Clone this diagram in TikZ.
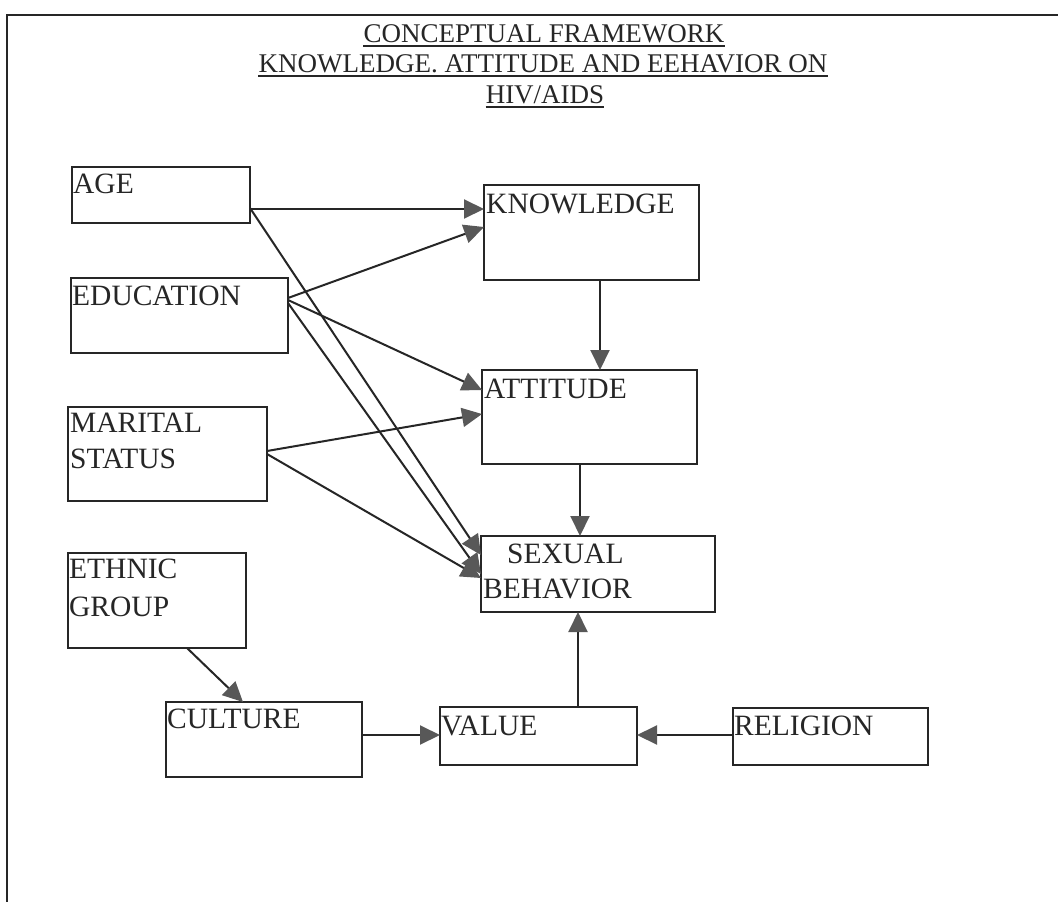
\documentclass[tikz,border=0pt]{standalone}
\usepackage{fontspec}
\setmainfont{Liberation Serif}
\usetikzlibrary{arrows.meta,calc}
\definecolor{ink}{HTML}{262626}
\definecolor{headgray}{HTML}{585858}
\begin{document}
\begin{tikzpicture}[x=1pt,y=-1pt,
  box/.style={draw=ink,line width=2.2pt,rectangle,inner sep=0pt,outer sep=0pt,anchor=north west},
  lbl/.style={anchor=base west,inner sep=0pt,text=ink,font=\fontsize{29.5}{34}\selectfont},
  ttl/.style={anchor=base,inner sep=0pt,text=ink,font=\fontsize{27}{30}\selectfont},
  uline/.style={draw=ink,line width=1.5pt},
  arr/.style={draw=ink,line width=2pt,-{Triangle[length=20pt,width=19pt,color=headgray]}},
  frame/.style={draw=ink,line width=2.4pt}]
\useasboundingbox (0,0) rectangle (1058,902);
\fill[white] (0,0) rectangle (1058,902);
% outer frame
\coordinate (ftl) at (7,15);
\coordinate (ftr) at (1058,15);
\coordinate (fbl) at (7,902);
\draw[frame] (fbl) -- (ftl) -- (ftr);
% title
\node[ttl] (t1) at (544,42) {CONCEPTUAL FRAMEWORK};
\node[ttl] (t2) at (543,72) {KNOWLEDGE. ATTITUDE AND EEHAVIOR ON};
\node[ttl] (t3) at (545,103) {HIV/AIDS};
\foreach \t in {t1,t2,t3}{
  \draw[uline] ($(\t.base west)+(0,4)$) -- ($(\t.base east)+(0,4)$);
}
% boxes
\node[box,minimum width=178pt,minimum height=56pt] (age) at (72,167) {};
\node[box,minimum width=217pt,minimum height=75pt] (edu) at (71,278) {};
\node[box,minimum width=199pt,minimum height=94pt] (mar) at (68,407) {};
\node[box,minimum width=178pt,minimum height=95pt] (eth) at (68,553) {};
\node[box,minimum width=196pt,minimum height=75pt] (cul) at (166,702) {};
\node[box,minimum width=197pt,minimum height=58pt] (val) at (440,707) {};
\node[box,minimum width=195pt,minimum height=57pt] (rel) at (733,708) {};
\node[box,minimum width=215pt,minimum height=95pt] (know) at (484,185) {};
\node[box,minimum width=215pt,minimum height=94pt] (att) at (482,370) {};
\node[box,minimum width=234pt,minimum height=76pt] (sb) at (481,536) {};
% labels
\node[lbl] (age-t) at ($(age.north west)+(1,26)$) {AGE};
\node[lbl] (edu-t) at ($(edu.north west)+(1,27)$) {EDUCATION};
\node[lbl] (mar-t1) at ($(mar.north west)+(2,25)$) {MARITAL};
\node[lbl] (mar-t2) at ($(mar.north west)+(2,61)$) {STATUS};
\node[lbl] (eth-t1) at ($(eth.north west)+(1,25)$) {ETHNIC};
\node[lbl] (eth-t2) at ($(eth.north west)+(1,63)$) {GROUP};
\node[lbl] (cul-t) at ($(cul.north west)+(1,26)$) {CULTURE};
\node[lbl] (val-t) at ($(val.north west)+(1,28)$) {VALUE};
\node[lbl] (rel-t) at ($(rel.north west)+(1,27)$) {RELIGION};
\node[lbl] (know-t) at ($(know.north west)+(2,28)$) {KNOWLEDGE};
\node[lbl] (att-t) at ($(att.north west)+(2,28)$) {ATTITUDE};
\node[lbl] (sb-t1) at ($(sb.north west)+(26,27)$) {SEXUAL};
\node[lbl] (sb-t2) at ($(sb.north west)+(2,62)$) {BEHAVIOR};
% connectors
\draw[arr] ($(age.south east)+(0,-14)$) -- ($(know.north west)+(0,24)$);
\draw[arr] ($(age.south east)+(0,-15)$) -- ($(sb.north west)+(0,19)$);
\draw[arr] ($(edu.north east)+(0,20)$) -- ($(know.north west)+(0,42)$);
\draw[arr] ($(edu.north east)+(0,22)$) -- ($(att.north west)+(0,20)$);
\draw[arr] ($(edu.north east)+(0,25)$) -- ($(sb.north west)+(0,38)$);
\draw[arr] ($(mar.north east)+(0,44)$) -- ($(att.north west)+(0,44)$);
\draw[arr] ($(mar.north east)+(0,47)$) -- ($(sb.north west)+(0,42)$);
\draw[arr] ($(know.south west)+(116,0)$) -- ($(att.north west)+(118,0)$);
\draw[arr] ($(att.south west)+(98,0)$) -- ($(sb.north west)+(99,0)$);
\draw[arr] ($(val.north west)+(138,0)$) -- ($(sb.south west)+(97,0)$);
\draw[arr] ($(rel.north west)+(0,27)$) -- ($(val.north east)+(0,28)$);
\draw[arr] ($(cul.north east)+(0,33)$) -- ($(val.north west)+(0,28)$);
\draw[arr] ($(eth.south west)+(119,0)$) -- ($(cul.north west)+(77,0)$);
\end{tikzpicture}
\end{document}
